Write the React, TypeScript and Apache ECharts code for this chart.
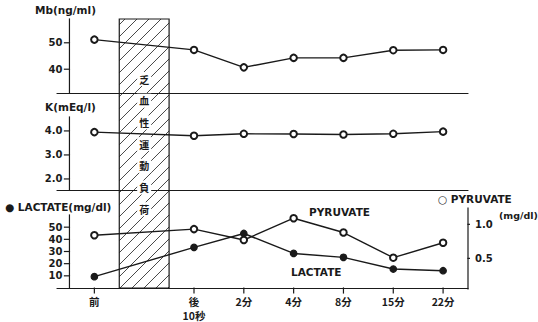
import React, { useEffect, useRef } from "react";
import * as echarts from "echarts";

const xPositions = [0, 2, 3, 4, 5, 6, 7];
const xLabels = ["前", "後\n10秒", "2分", "4分", "8分", "15分", "22分"];
const mbValues = [51.2, 47.3, 40.7, 44.3, 44.3, 47.2, 47.3];
const kValues = [3.95, 3.8, 3.88, 3.87, 3.85, 3.88, 3.97];
const lactateValues = [9.3, 33.4, 44.8, 28.4, 25.2, 15.6, 14.2];
const pyruvateValues = [0.84, 0.93, 0.77, 1.09, 0.88, 0.51, 0.73];
const mbTicks = [40, 50];
const kTicks = [2, 3, 4];
const lactateTicks = [10, 20, 30, 40, 50];
const pyruvateTicks = [0.5, 1.0];
const exerciseSpan = [0.5, 1.5];
const exerciseChars = ["乏", "血", "性", "運", "動", "負", "荷"];

const xRange = [-0.75, 7.5];
const leftAxisAt = -0.5;
const yRanges = [
  [31, 59],
  [1.54, 4.58],
  [0, 60],
  [0.05, 1.24],
];

const INK = "#1a1a1a";
const LATIN = "'DejaVu Sans', 'Noto Sans CJK JP', sans-serif";
const CJK = "'Noto Sans CJK JP', 'DejaVu Sans', sans-serif";
const TICK = 5;
const LW = 1.2;
const W = 538;
const H = 322;

function pairs(vals: number[]) {
  return xPositions.map((x, i) => [x, vals[i]]);
}

function buildBase(): any {
  const grid = (top: number, height: number) => ({ left: 57, right: 70, top, height });
  const baseX = (gi: number, extra: any = {}) => ({
    type: "value",
    gridIndex: gi,
    min: xRange[0],
    max: xRange[1],
    splitLine: { show: false },
    axisLine: { show: true, onZero: false, lineStyle: { color: INK, width: LW } },
    axisTick: { show: false },
    axisLabel: { show: false },
    ...extra,
  });
  const labelStyle = { color: INK, fontFamily: LATIN, fontWeight: "bold", fontSize: 10 };
  const baseY = (gi: number, ticks: number[], fmt: (v: number) => string, extra: any = {}) => ({
    type: "value",
    gridIndex: gi,
    min: yRanges[gi][0],
    max: yRanges[gi][1],
    splitLine: { show: false },
    axisLine: { show: false },
    axisTick: { show: false },
    axisLabel: { show: true, margin: 7, customValues: ticks, formatter: fmt, ...labelStyle },
    ...extra,
  });
  const lineSeries = (xi: number, yi: number, vals: number[], filled: boolean) => ({
    type: "line",
    xAxisIndex: xi,
    yAxisIndex: yi,
    data: pairs(vals),
    symbol: filled ? "circle" : "emptyCircle",
    symbolSize: 6.5,
    lineStyle: { color: INK, width: 1.4 },
    itemStyle: { color: INK, borderColor: INK, borderWidth: 1.2 },
    z: 5,
  });
  return {
    animation: false,
    grid: [grid(19, 74), grid(117, 73), grid(215, 74), grid(208, 81)],
    xAxis: [
      baseX(0),
      baseX(1),
      baseX(2, {
        axisLabel: {
          show: true,
          margin: 6,
          customValues: xPositions,
          formatter: (v: number) => xLabels[xPositions.indexOf(v)] ?? "",
          color: INK,
          fontFamily: CJK,
          fontWeight: "bold",
          fontSize: 10.5,
          lineHeight: 14,
        },
      }),
      baseX(3, { show: false }),
    ],
    yAxis: [
      baseY(0, mbTicks, (v) => String(v), { offset: -12.45 }),
      baseY(1, kTicks, (v) => v.toFixed(1), { offset: -12.45 }),
      baseY(2, lactateTicks, (v) => String(v), { offset: -12.45 }),
      baseY(3, pyruvateTicks, (v) => v.toFixed(1), { position: "right" }),
    ],
    series: [
      lineSeries(0, 0, mbValues, false),
      lineSeries(1, 1, kValues, false),
      lineSeries(2, 2, lactateValues, true),
      lineSeries(3, 3, pyruvateValues, false),
    ],
  };
}

export default function App() {
  const ref = useRef<HTMLDivElement>(null);
  useEffect(() => {
    if (!ref.current) return;

    // measure pixel positions through the library's own scales on a scratch instance
    const scratch = document.createElement("div");
    scratch.style.cssText = `position:absolute;left:-3000px;top:0;width:${W}px;height:${H}px;`;
    document.body.appendChild(scratch);
    const probe = echarts.init(scratch, undefined, { renderer: "svg", width: W, height: H });
    probe.setOption(buildBase());
    const px = (axis: any, v: number) => probe.convertToPixel(axis, v) as number;
    const fromPx = (axis: any, p: number) => probe.convertFromPixel(axis, p) as number;
    const xL = px({ xAxisIndex: 0 }, exerciseSpan[0]);
    const xR = px({ xAxisIndex: 0 }, exerciseSpan[1]);
    const yAxisX = px({ xAxisIndex: 0 }, leftAxisAt);
    const yTop = px({ yAxisIndex: 0 }, yRanges[0][1]);
    const yBot = px({ yAxisIndex: 2 }, yRanges[2][0]);
    // tick length expressed in data units of each axis
    const tickDx = leftAxisAt - fromPx({ xAxisIndex: 0 }, yAxisX - TICK);
    const xTickEnd = fromPx({ yAxisIndex: 2 }, yBot + TICK);
    probe.dispose();
    document.body.removeChild(scratch);

    // axis lines and tick marks drawn as plain line series through the axes
    const seg = (xi: number, yi: number, a: number[], b: number[]) => ({
      type: "line",
      xAxisIndex: xi,
      yAxisIndex: yi,
      data: [a, b],
      symbol: "none",
      silent: true,
      clip: false,
      z: 6,
      lineStyle: { color: INK, width: LW, cap: "square" },
    });
    const axisSeries: any[] = [];
    [0, 1, 2].forEach((ai) => {
      axisSeries.push(seg(ai, ai, [leftAxisAt, yRanges[ai][0]], [leftAxisAt, yRanges[ai][1]]));
    });
    axisSeries.push(seg(3, 3, [xRange[1], yRanges[3][0]], [xRange[1], yRanges[3][1]]));
    ([[0, mbTicks], [1, kTicks], [2, lactateTicks]] as [number, number[]][]).forEach(([ai, tv]) => {
      tv.forEach((v) => axisSeries.push(seg(ai, ai, [leftAxisAt - tickDx, v], [leftAxisAt, v])));
    });
    pyruvateTicks.forEach((v) => axisSeries.push(seg(3, 3, [xRange[1], v], [xRange[1] + tickDx, v])));
    xPositions.forEach((x) => axisSeries.push(seg(2, 2, [x, 0], [x, xTickEnd])));

    // hatch lines at 45 degrees inside the exercise box
    const hatch: any[] = [];
    const step = 12;
    const cStart = Math.ceil((xL + yTop) / step) * step;
    for (let cc = cStart; cc < xR + yBot; cc += step) {
      const x1 = Math.max(xL, cc - yBot);
      const x2 = Math.min(xR, cc - yTop);
      if (x2 - x1 > 0.5) {
        hatch.push({
          type: "polyline",
          z: 1,
          shape: { points: [[x1, cc - x1], [x2, cc - x2]] },
          style: { stroke: INK, lineWidth: 0.8, fill: null },
        });
      }
    }

    const txt = (text: string, x: number, y: number, size = 10.5, family = LATIN) => ({
      type: "text",
      x,
      y,
      z: 10,
      style: {
        text,
        fill: INK,
        font: `bold ${size}px ${family}`,
        align: "left",
        verticalAlign: "middle",
        textAlign: "left",
        textVerticalAlign: "middle",
      },
    });

    const cx = (xL + xR) / 2;
    const charEls = exerciseChars.map((ch, i) => ({
      type: "text",
      x: cx,
      y: 79 + i * 21.7,
      z: 10,
      style: {
        text: ch,
        fill: INK,
        font: `bold 10px ${CJK}`,
        align: "center",
        verticalAlign: "middle",
        textAlign: "center",
        textVerticalAlign: "middle",
        backgroundColor: "#fff",
        padding: [2, 2],
      },
    }));

    const option = buildBase();
    option.series = [...option.series, ...axisSeries];
    option.graphic = [
      {
        type: "rect",
        z: 1,
        shape: { x: xL, y: yTop, width: xR - xL, height: yBot - yTop },
        style: { fill: null, stroke: INK, lineWidth: LW },
      },
      ...hatch,
      ...charEls,
      txt("Mb(ng/ml)", 35, 10),
      txt("K(mEq/l)", 45, 107),
      txt("● LACTATE(mg/dl)", 5, 207),
      txt("○ PYRUVATE", 438, 199),
      txt("(mg/dl)", 499, 215, 9.5),
      txt("PYRUVATE", 309, 212),
      txt("LACTATE", 291, 272),
    ];

    const chart = echarts.init(ref.current, undefined, { renderer: "svg" });
    chart.setOption(option);
    return () => chart.dispose();
  }, []);
  return (
    <div
      ref={ref}
      style={{ position: "fixed", left: 0, top: 0, width: W, height: H, background: "#fff" }}
    />
  );
}
